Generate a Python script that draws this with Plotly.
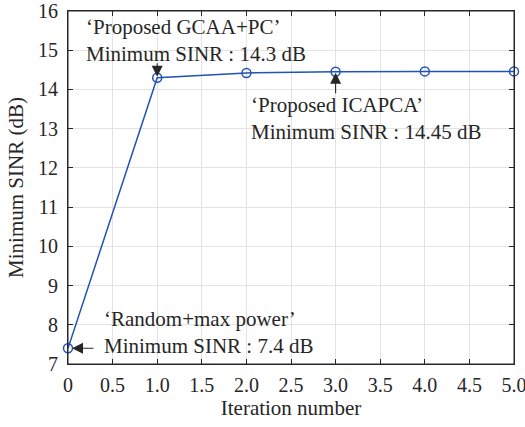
import plotly.graph_objects as go

iterations = [0, 1, 2, 3, 4, 5]
min_sinr = [7.4, 14.3, 14.42, 14.45, 14.46, 14.46]
x_tick_vals = [0, 0.5, 1.0, 1.5, 2.0, 2.5, 3.0, 3.5, 4.0, 4.5, 5.0]
x_tick_text = ["0", "0.5", "1.0", "1.5", "2.0", "2.5", "3.0", "3.5", "4.0", "4.5", "5.0"]
y_tick_vals = [7, 8, 9, 10, 11, 12, 13, 14, 15, 16]

# annotation text blocks (left x, centre y in data units)
label_blocks = [
    (0.18, 15.25, "‘Proposed GCAA+PC’<br>Minimum SINR : 14.3 dB"),
    (2.03, 13.27, "‘Proposed ICAPCA’<br>Minimum SINR : 14.45 dB"),
    (0.38, 7.80, "‘Random+max power’<br>Minimum SINR : 7.4 dB"),
]

font = "Liberation Serif, Times New Roman, serif"
blue = "#2152b5"
dark = "#262626"

fig = go.Figure()
fig.add_trace(go.Scatter(
    x=iterations, y=min_sinr, mode="lines+markers",
    line=dict(color=blue, width=1.5),
    marker=dict(symbol="circle-open", size=9, color=blue, line=dict(width=1.5)),
    showlegend=False, cliponaxis=False,
))

axis_common = dict(
    showgrid=True, gridcolor="#e3e3e3", gridwidth=1,
    showline=True, linecolor=dark, linewidth=1, mirror="allticks",
    ticks="inside", ticklen=5, tickcolor=dark,
    tickfont=dict(family=font, size=20, color=dark),
    zeroline=False, automargin=False, ticklabeloverflow="allow",
)

fig.update_xaxes(range=[0, 5], tickvals=x_tick_vals, ticktext=x_tick_text,
                 title=dict(text="Iteration number", font=dict(family=font, size=21, color=dark), standoff=5),
                 ticklabelstandoff=3,
                 **axis_common)
fig.update_yaxes(range=[7, 16], tickvals=y_tick_vals,
                 title=dict(text="Minimum SINR (dB)", font=dict(family=font, size=21, color=dark), standoff=8),
                 ticklabelstandoff=5,
                 **axis_common)

tfont = dict(family=font, size=21, color=dark)
for x, y, t in label_blocks:
    fig.add_annotation(x=x, y=y, text=t, showarrow=False, xanchor="left", yanchor="middle",
                       align="left", font=tfont)

arrows = [
    (iterations[1], min_sinr[1], 0, -16, 1),
    (iterations[3], min_sinr[3], 0, 23, 1),
    (iterations[0], min_sinr[0], 27, 0, 4),
]
for x, y, ax, ay, so in arrows:
    fig.add_annotation(x=x, y=y, text="", showarrow=True, ax=ax, ay=ay,
                       arrowhead=2, arrowsize=2.0, arrowwidth=1.1, arrowcolor=dark,
                       standoff=so)

# plot frame
fig.add_shape(type="rect", xref="paper", yref="paper", x0=0, y0=0, x1=1, y1=1,
              line=dict(color=dark, width=1), layer="above")

fig.update_layout(
    width=525, height=427,
    margin=dict(l=68, r=11, t=11, b=63),
    paper_bgcolor="white", plot_bgcolor="white",
    font=dict(family=font),
)

fig.write_html("out.html", config={"displayModeBar": False},
               post_script="document.body.style.margin='0';document.body.style.overflow='hidden';")
